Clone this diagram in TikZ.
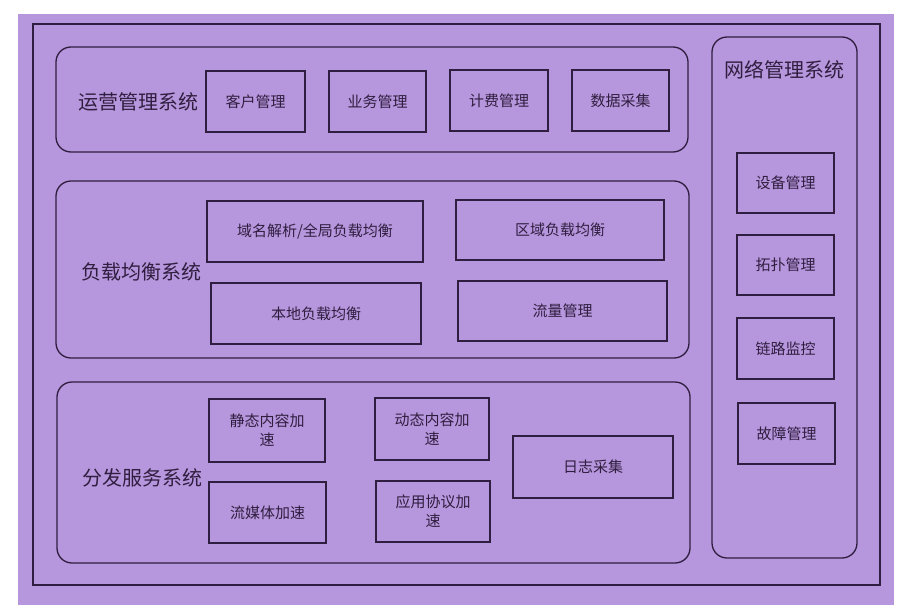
\documentclass[tikz,border=0pt]{standalone}
\usepackage{fontspec}
\setmainfont{Noto Sans CJK SC}
\definecolor{bgpurple}{RGB}{182,150,220}
\definecolor{ink}{RGB}{48,30,64}
\tikzset{
  box/.style={draw=ink, line width=1.3pt, inner sep=0pt, text=ink, font=\fontsize{15}{19}\selectfont, align=center},
  group/.style={draw=ink, line width=1.3pt, rounded corners=15pt, inner sep=0pt},
  frame/.style={draw=ink, line width=1.5pt, inner sep=0pt},
  title/.style={text=ink, font=\fontsize{20}{24}\selectfont, inner sep=0pt}
}
\begin{document}
\begin{tikzpicture}[x=1pt,y=-1pt]
\useasboundingbox (0,0) rectangle (901,605);
\fill[white] (0,0) rectangle (901,605);
\fill[bgpurple] (18,14) rectangle (894,605);
% outer frame
\node[frame, minimum width=847, minimum height=561] (outer) at (456.5,304.5) {};
% operations
\node[group, minimum width=632, minimum height=105] (ops) at (372,99.5) {};
\node[title] (opsT) at (138,102) {运营管理系统};
\node[box, minimum width=99, minimum height=61] (kh) at (255.5,101.5) {客户管理};
\node[box, minimum width=97, minimum height=61] (yw) at (377.5,101.5) {业务管理};
\node[box, minimum width=98, minimum height=61] (jf) at (499,100.5) {计费管理};
\node[box, minimum width=97, minimum height=61] (sj) at (620.5,100.5) {数据采集};
% load balancing
\node[group, minimum width=633, minimum height=177] (lb) at (372.5,269.5) {};
\node[title] (lbT) at (141,272) {负载均衡系统};
\node[box, minimum width=216, minimum height=61] (ym) at (315,231.5) {域名解析/全局负载均衡};
\node[box, minimum width=208, minimum height=60] (qy) at (560,230) {区域负载均衡};
\node[box, minimum width=210, minimum height=61] (bd) at (316,313.5) {本地负载均衡};
\node[box, minimum width=209, minimum height=60] (ll) at (562.5,311) {流量管理};
% distribution
\node[group, minimum width=633, minimum height=181] (ds) at (373.5,472.5) {};
\node[title] (dsT) at (142,478) {分发服务系统};
\node[box, minimum width=116, minimum height=63] (jt) at (267,430.5) {静态内容加\\速};
\node[box, minimum width=117, minimum height=61] (lm) at (267.5,512.5) {流媒体加速};
\node[box, minimum width=114, minimum height=62] (dt) at (432,429) {动态内容加\\速};
\node[box, minimum width=114, minimum height=61] (yy) at (433,511.5) {应用协议加\\速};
\node[box, minimum width=160, minimum height=62] (rz) at (593,467) {日志采集};
% network management
\node[group, minimum width=145, minimum height=521] (nm) at (784.5,297.5) {};
\node[title] (nmT) at (784,70) {网络管理系统};
\node[box, minimum width=97, minimum height=60] (sb) at (785.5,183) {设备管理};
\node[box, minimum width=97, minimum height=60] (tp) at (785.5,265) {拓扑管理};
\node[box, minimum width=97, minimum height=61] (lj) at (785.5,348.5) {链路监控};
\node[box, minimum width=97, minimum height=61] (gz) at (786.5,433.5) {故障管理};
\end{tikzpicture}
\end{document}
